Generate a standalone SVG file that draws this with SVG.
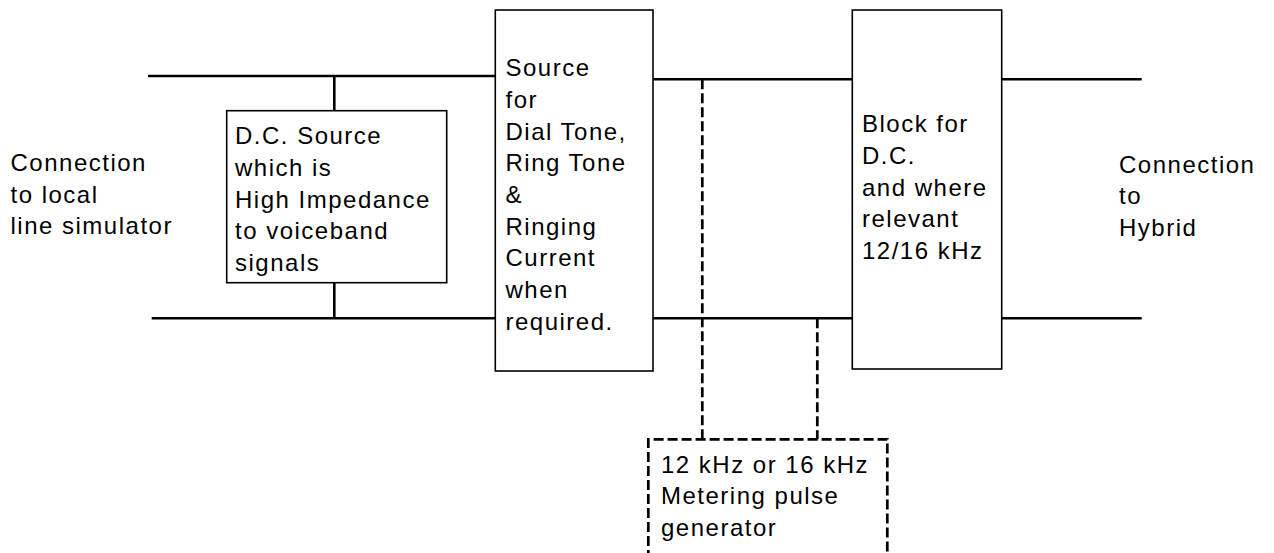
<svg xmlns="http://www.w3.org/2000/svg" width="1274" height="553" viewBox="0 0 1274 553">
<style>
  text { font-family: "Liberation Sans", Arial, sans-serif; font-size: 24px; letter-spacing: 1.5px; fill: #000; }
  .box { fill: #fff; stroke: #000; stroke-width: 1.6; }
  .wire { stroke: #000; stroke-width: 2.6; fill: none; }
  .dash { stroke: #000; stroke-width: 2.7; fill: none; stroke-dasharray: 10 4; }
</style>
<rect width="1274" height="553" fill="#fff"/>
<g id="connectors">
  <path class="wire" d="M148,76 H495 M151.7,318.3 H495 M334.3,76 V110.7 M334.3,283 V318.3 M653,79.3 H852 M653,318.3 H852 M1002,79.3 H1141.7 M998,318.3 H1141.7"/>
  <path class="dash" d="M702.3,79.3 V439.3 M817.3,318.3 V439.3"/>
</g>
<g id="left-label">
  <text x="10.5" y="171">Connection</text>
  <text x="10.5" y="202.5">to local</text>
  <text x="10.5" y="234">line simulator</text>
</g>
<g id="dc-source">
  <rect class="box" x="226.7" y="110.7" width="220" height="172"/>
  <text x="235" y="144.3">D.C. Source</text>
  <text x="235" y="176">which is</text>
  <text x="235" y="207.7">High Impedance</text>
  <text x="235" y="239.3">to voiceband</text>
  <text x="235" y="271">signals</text>
</g>
<g id="tone-source">
  <rect class="box" x="495.3" y="10" width="157.7" height="361"/>
  <text x="505.5" y="76">Source</text>
  <text x="505.5" y="107.7">for</text>
  <text x="505.5" y="139.5">Dial Tone,</text>
  <text x="505.5" y="171">Ring Tone</text>
  <text x="505.5" y="202.7">&amp;</text>
  <text x="505.5" y="234.5">Ringing</text>
  <text x="505.5" y="266">Current</text>
  <text x="505.5" y="297.7">when</text>
  <text x="505.5" y="329.5">required.</text>
</g>
<g id="dc-block">
  <rect class="box" x="852.3" y="10" width="149.4" height="359"/>
  <text x="862" y="132.3">Block for</text>
  <text x="862" y="164.3">D.C.</text>
  <text x="862" y="196">and where</text>
  <text x="862" y="227.3">relevant</text>
  <text x="862" y="259.3">12/16 kHz</text>
</g>
<g id="right-label">
  <text x="1119" y="172.7">Connection</text>
  <text x="1119" y="204">to</text>
  <text x="1119" y="236">Hybrid</text>
</g>
<g id="metering-generator">
  <path class="dash" d="M648.3,560 V439.3 H887.3 V560"/>
  <text x="661" y="472.7">12 kHz or 16 kHz</text>
  <text x="661" y="504">Metering pulse</text>
  <text x="661" y="535.5">generator</text>
</g>
</svg>
